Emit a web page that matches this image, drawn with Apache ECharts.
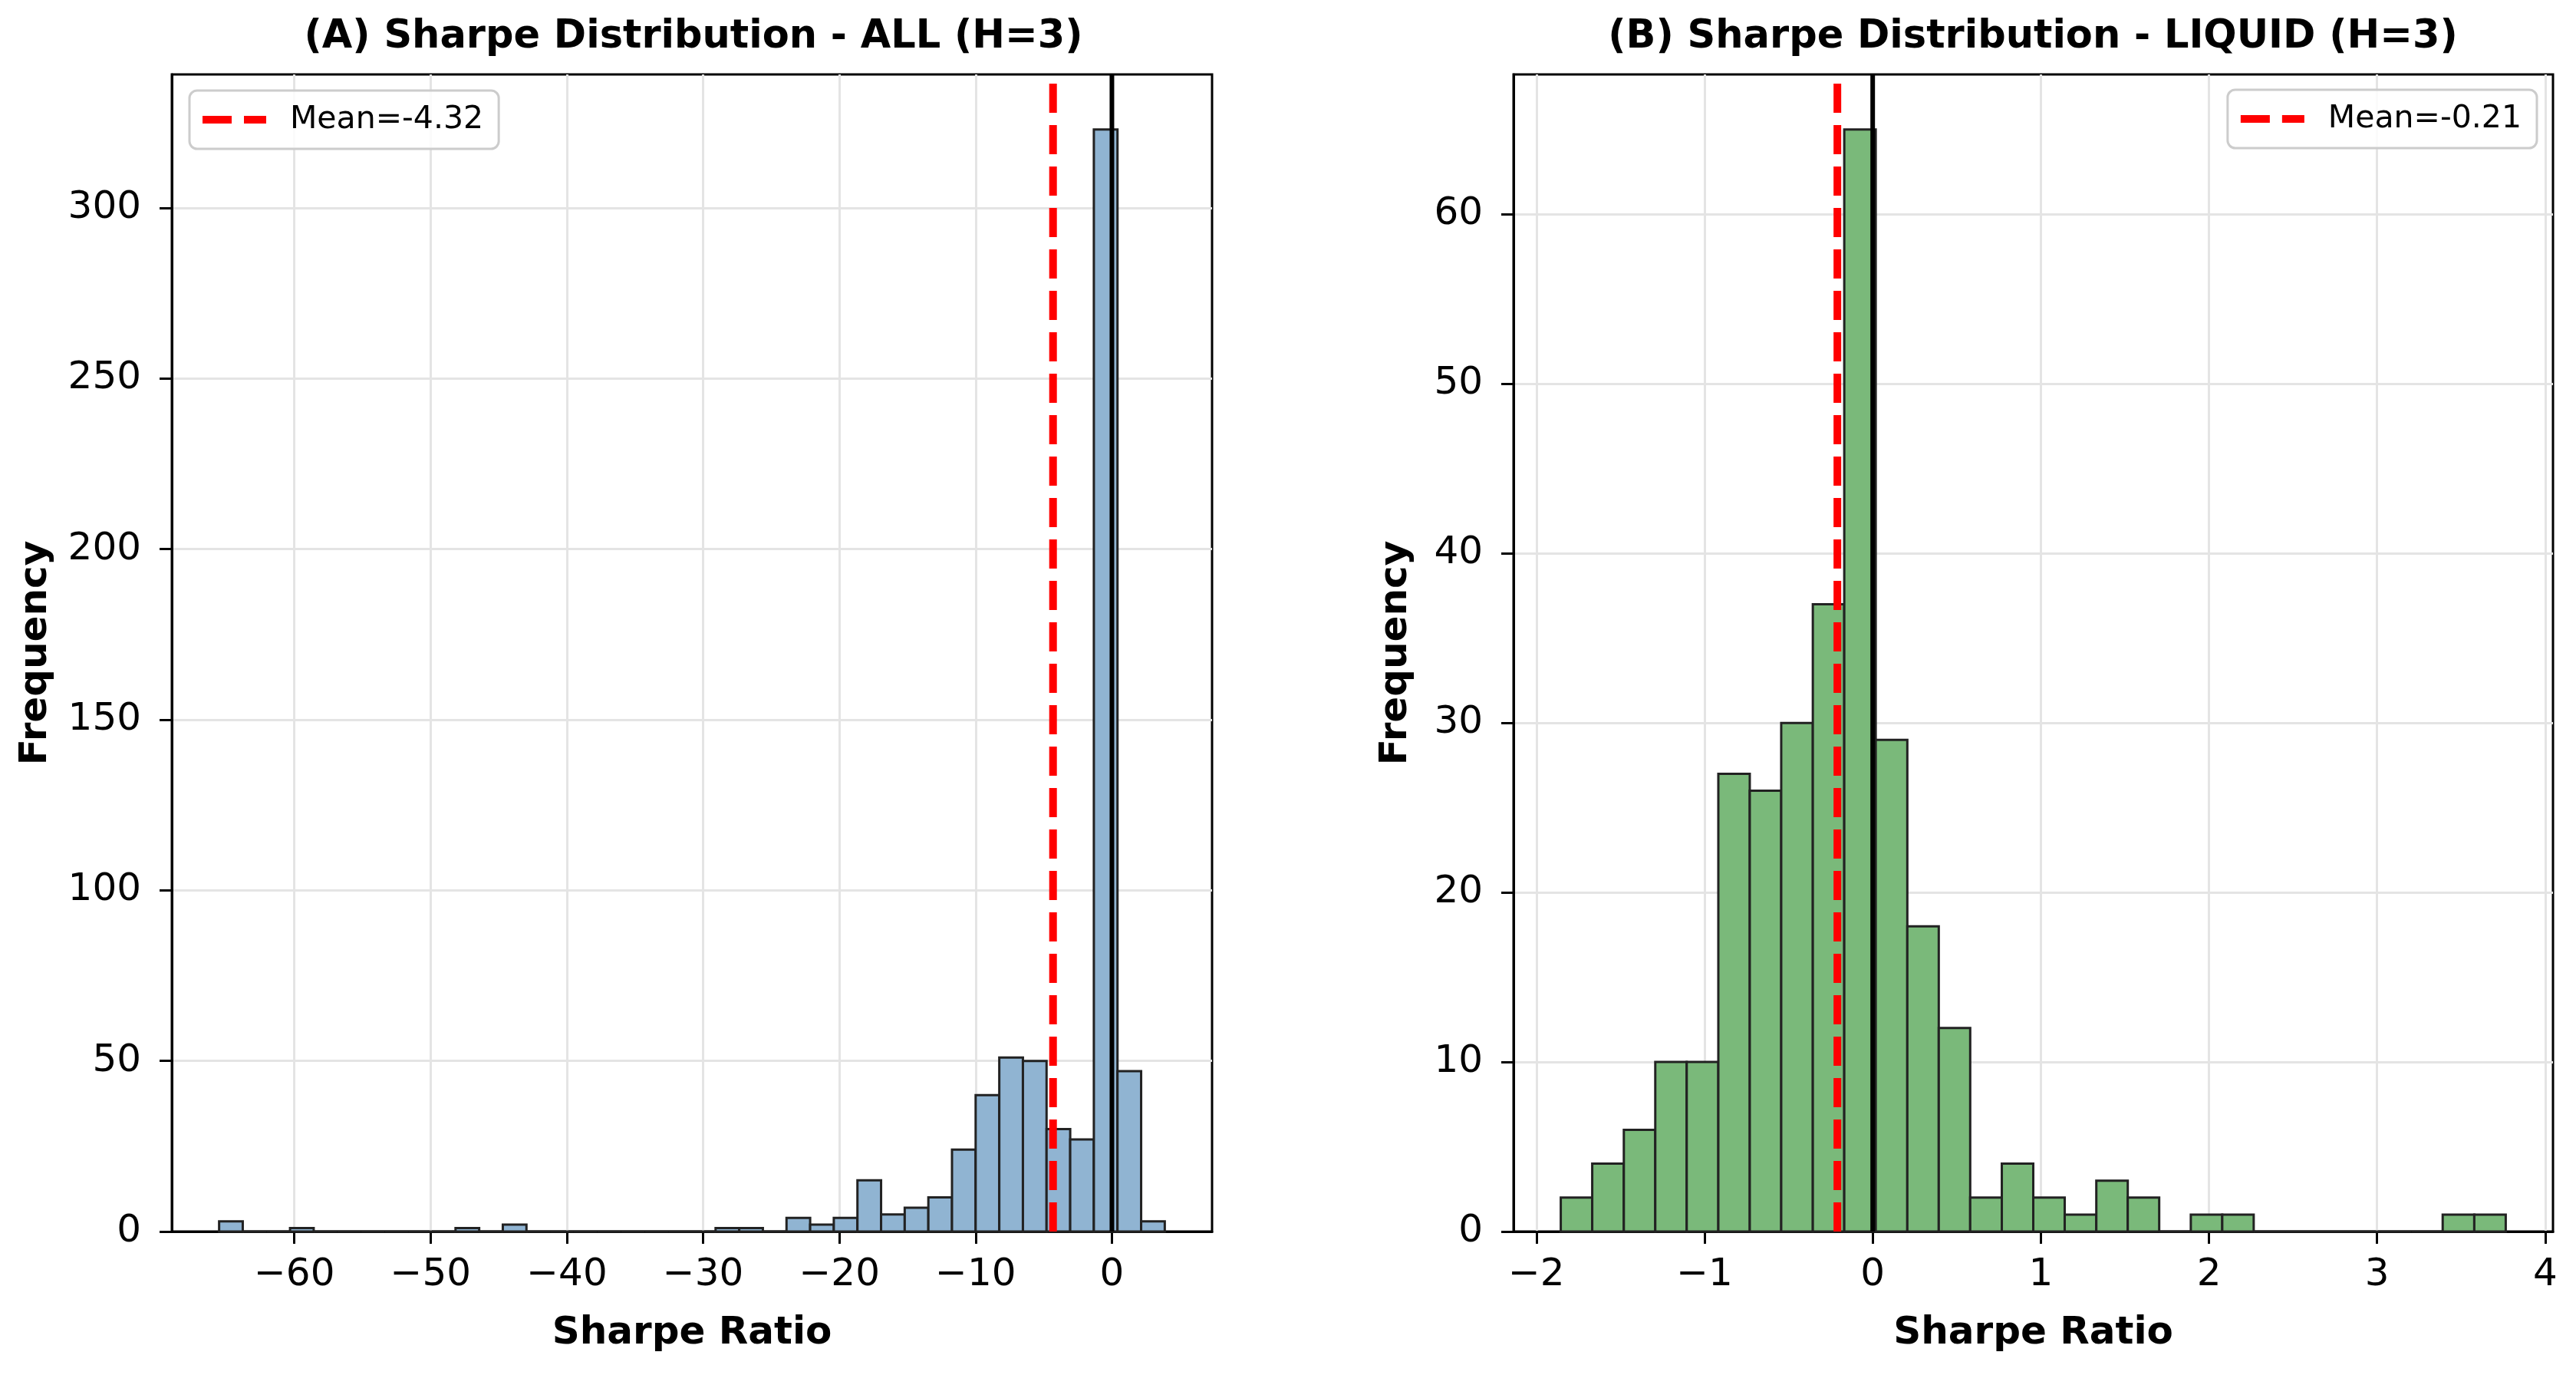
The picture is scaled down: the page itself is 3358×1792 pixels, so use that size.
<!DOCTYPE html>
<html>
<head>
<meta charset="utf-8">
<script src="https://cdn.jsdelivr.net/npm/echarts@6/dist/echarts.min.js"></script>
<style>
html,body{margin:0;padding:0;background:#ffffff;}
#chart{width:3358px;height:1792px;}
</style>
</head>
<body>
<div id="chart"></div>
<script>
// ---------- DATA ----------
const titleAll = '(A) Sharpe Distribution - ALL (H=3)';
const titleLiquid = '(B) Sharpe Distribution - LIQUID (H=3)';
const xAxisLabel = 'Sharpe Ratio';
const yAxisLabel = 'Frequency';

const binEdgesAll = [-65.520, -63.785, -62.050, -60.315, -58.580, -56.845, -55.110, -53.375, -51.640, -49.905,
  -48.170, -46.435, -44.700, -42.965, -41.230, -39.495, -37.760, -36.025, -34.290, -32.555,
  -30.820, -29.085, -27.350, -25.615, -23.880, -22.145, -20.410, -18.675, -16.940, -15.205,
  -13.470, -11.735, -10.000, -8.265, -6.530, -4.795, -3.060, -1.325, 0.410, 2.145, 3.880];
const countsAll = [3, 0, 0, 1, 0, 0, 0, 0, 0, 0,
  1, 0, 2, 0, 0, 0, 0, 0, 0, 0,
  0, 1, 1, 0, 4, 2, 4, 15, 5, 7,
  10, 24, 40, 51, 50, 30, 27, 323, 47, 3];
const meanAll = -4.32;
const xRangeAll = [-68.99, 7.35];
const yMaxAll = 339.15;
const xTicksAll = [-60, -50, -40, -30, -20, -10, 0];
const yTicksAll = [0, 50, 100, 150, 200, 250, 300];

const binEdgesLiquid = [-1.855, -1.668, -1.480, -1.293, -1.106, -0.918, -0.731, -0.544, -0.356, -0.169,
  0.018, 0.206, 0.393, 0.580, 0.768, 0.955, 1.142, 1.330, 1.517, 1.704,
  1.892, 2.079, 2.266, 2.454, 2.641, 2.828, 3.016, 3.203, 3.390, 3.578, 3.765];
const countsLiquid = [2, 4, 6, 10, 10, 27, 26, 30, 37, 65,
  29, 18, 12, 2, 4, 2, 1, 3, 2, 0,
  1, 1, 0, 0, 0, 0, 0, 0, 1, 1];
const meanLiquid = -0.21;
const xRangeLiquid = [-2.136, 4.046];
const yMaxLiquid = 68.25;
const xTicksLiquid = [-2, -1, 0, 1, 2, 3, 4];
const yTicksLiquid = [0, 10, 20, 30, 40, 50, 60];

// ---------- BUILD ----------
const FONT = 'DejaVu Sans';
const nameAll = 'Mean=' + meanAll;
const nameLiquid = 'Mean=' + meanLiquid;

function histData(edges, counts) {
  return counts.map((c, i) => [edges[i], edges[i + 1], c]);
}
function fmt(v) {
  return v < 0 ? '\u2212' + Math.abs(v) : String(v);
}
function histSeries(idx, edges, counts, fill) {
  return {
    type: 'custom', xAxisIndex: idx, yAxisIndex: idx, z: 2, silent: true,
    data: histData(edges, counts),
    encode: { x: [0, 1], y: 2 },
    renderItem: function (params, api) {
      const p0 = api.coord([api.value(0), 0]);
      const p1 = api.coord([api.value(1), api.value(2)]);
      return {
        type: 'rect',
        shape: { x: p0[0], y: p1[1], width: p1[0] - p0[0], height: p0[1] - p1[1] },
        style: { fill: fill, stroke: '#222222', lineWidth: 3 }
      };
    }
  };
}
function xAxis(idx, range, ticks) {
  return {
    type: 'value', gridIndex: idx, min: range[0], max: range[1],
    name: xAxisLabel, nameLocation: 'middle', nameGap: 108,
    nameTextStyle: { fontFamily: FONT, fontSize: 50, fontWeight: 'bold', color: '#000' },
    axisLine: { show: true, onZero: false, lineStyle: { color: '#000', width: 3 } },
    axisTick: { show: true, customValues: ticks, length: 16, lineStyle: { color: '#000', width: 3 } },
    axisLabel: { customValues: ticks, formatter: fmt, margin: 32, fontFamily: FONT, fontSize: 50, color: '#000', lineHeight: 50 },
    splitLine: { show: true, lineStyle: { color: '#e4e4e4', width: 3 } }
  };
}
function yAxis(idx, max, ticks, gap) {
  return {
    type: 'value', gridIndex: idx, min: 0, max: max,
    name: yAxisLabel, nameLocation: 'middle', nameGap: gap,
    nameTextStyle: { fontFamily: FONT, fontSize: 50, fontWeight: 'bold', color: '#000' },
    axisLine: { show: true, onZero: false, lineStyle: { color: '#000', width: 3 } },
    axisTick: { show: true, customValues: ticks, length: 16, lineStyle: { color: '#000', width: 3 } },
    axisLabel: { customValues: ticks, formatter: fmt, margin: 40, fontFamily: FONT, fontSize: 50, color: '#000' },
    splitLine: { show: true, lineStyle: { color: '#e4e4e4', width: 3 } }
  };
}
function vline(idx, x, yMax, name, color, width, dashed) {
  return {
    type: 'line', name: name, xAxisIndex: idx, yAxisIndex: idx, z: 5, silent: true,
    data: [[x, 0], [x, yMax]],
    symbol: 'none', showSymbol: false,
    itemStyle: { color: color },
    lineStyle: { color: color, width: width, type: dashed ? [38, 16] : 'solid' },
    animation: false
  };
}
const dashIcon = 'path://M0,0H38V10H0Z M54,0H83V10H54Z';
function legend(data, pos) {
  return Object.assign({
    data: [{ name: data, icon: dashIcon }],
    orient: 'vertical',
    padding: [17, 20, 17, 17],
    itemWidth: 83, itemHeight: 10,
    backgroundColor: 'rgba(255,255,255,0.85)',
    borderColor: '#cccccc', borderWidth: 3, borderRadius: 10,
    selectedMode: false,
    textStyle: { fontFamily: FONT, fontSize: 41, color: '#000', lineHeight: 42, padding: [0, 0, 0, 26] }
  }, pos);
}

const option = {
  backgroundColor: '#ffffff',
  animation: false,
  title: [
    { text: titleAll, left: 904, top: 23, textAlign: 'center', padding: 0,
      textStyle: { fontFamily: FONT, fontSize: 51, fontWeight: 'bold', color: '#000' } },
    { text: titleLiquid, left: 2650, top: 23, textAlign: 'center', padding: 0,
      textStyle: { fontFamily: FONT, fontSize: 51, fontWeight: 'bold', color: '#000' } }
  ],
  legend: [
    legend(nameAll, { left: 247, top: 118 }),
    legend(nameLiquid, { right: 51, top: 117 })
  ],
  grid: [
    { left: 224, right: 1778, top: 97, bottom: 187, show: true, borderColor: '#000', borderWidth: 3, backgroundColor: 'transparent' },
    { left: 1973, right: 30, top: 97, bottom: 187, show: true, borderColor: '#000', borderWidth: 3, backgroundColor: 'transparent' }
  ],
  xAxis: [xAxis(0, xRangeAll, xTicksAll), xAxis(1, xRangeLiquid, xTicksLiquid)],
  yAxis: [yAxis(0, yMaxAll, yTicksAll, 152), yAxis(1, yMaxLiquid, yTicksLiquid, 128)],
  series: [
    histSeries(0, binEdgesAll, countsAll, '#90b4d2'),
    vline(0, meanAll, yMaxAll, nameAll, '#ff0000', 10, true),
    vline(0, 0, yMaxAll, 'zeroAll', '#000000', 6, false),
    histSeries(1, binEdgesLiquid, countsLiquid, '#7ab97a'),
    vline(1, meanLiquid, yMaxLiquid, nameLiquid, '#ff0000', 10, true),
    vline(1, 0, yMaxLiquid, 'zeroLiquid', '#000000', 6, false)
  ]
};

const chart = echarts.init(document.getElementById('chart'), null, { renderer: 'canvas', devicePixelRatio: 1 });
chart.setOption(option);
</script>
</body>
</html>
